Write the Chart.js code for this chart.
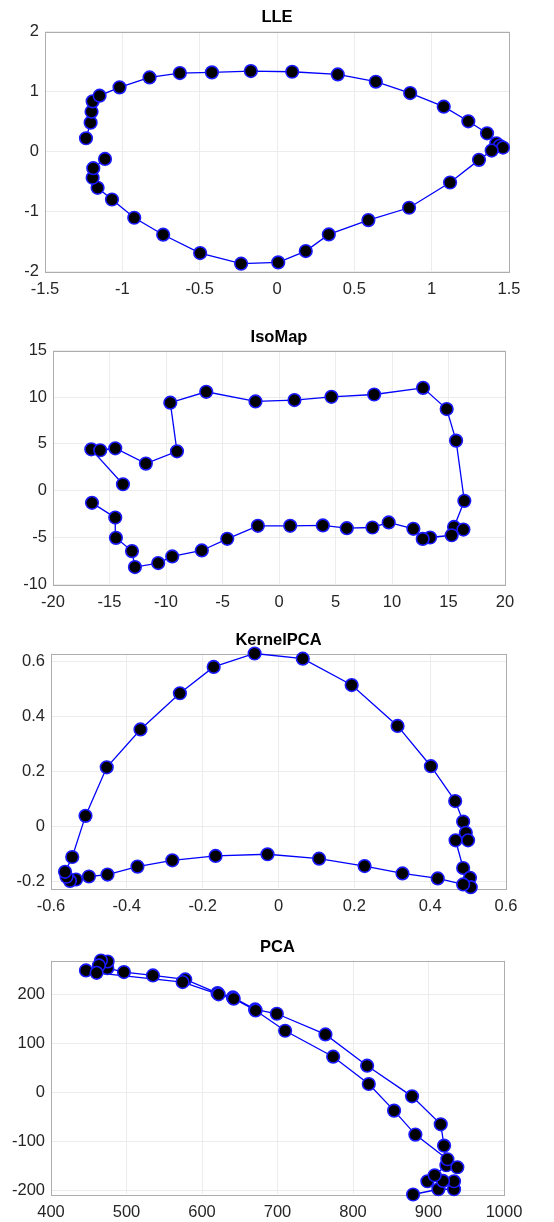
<!DOCTYPE html>
<html>
<head>
<meta charset="utf-8">
<script src="https://cdn.jsdelivr.net/npm/chart.js@4.4.0/dist/chart.umd.min.js"></script>
<style>
  body { margin: 0; background: #fff; }
  .panel { position: absolute; left: 0; width: 554px; }
</style>
</head>
<body>
<div class="panel" style="top:0px"><canvas id="lle" width="554" height="305"></canvas></div>
<div class="panel" style="top:310px"><canvas id="iso" width="554" height="305"></canvas></div>
<div class="panel" style="top:615px"><canvas id="kpca" width="554" height="303"></canvas></div>
<div class="panel" style="top:920px"><canvas id="pca" width="554" height="302"></canvas></div>
<script>
// LLE embedding
const lleX = [-1.235, -1.205, -1.199, -1.192, -1.147, -1.018, -0.824, -0.628, -0.421, -0.169, 0.098, 0.393, 0.639, 0.861, 1.078, 1.237, 1.358, 1.418, 1.44, 1.461, 1.388, 1.306, 1.119, 0.854, 0.591, 0.335, 0.186, 0.008, -0.232, -0.497, -0.736, -0.923, -1.067, -1.160, -1.192, -1.188, -1.112];
const lleY = [0.217, 0.478, 0.661, 0.833, 0.928, 1.067, 1.233, 1.306, 1.317, 1.339, 1.328, 1.283, 1.161, 0.972, 0.744, 0.500, 0.300, 0.133, 0.09, 0.061, 0.011, -0.144, -0.522, -0.944, -1.150, -1.389, -1.667, -1.856, -1.878, -1.700, -1.394, -1.111, -0.806, -0.611, -0.444, -0.283, -0.128];
const lleXTicks = [-1.5, -1, -0.5, 0, 0.5, 1, 1.5];
const lleYTicks = [-2, -1, 0, 1, 2];

// IsoMap embedding
const isoX = [-13.81, -16.61, -15.82, -14.49, -11.78, -9.03, -9.62, -6.44, -2.08, 1.37, 4.64, 8.42, 12.75, 14.84, 15.67, 16.40, 15.49, 16.32, 15.28, 13.37, 12.72, 11.89, 9.71, 8.27, 6.00, 3.88, 0.99, -1.87, -4.58, -6.83, -9.45, -10.69, -12.75, -13.01, -14.43, -14.49, -16.55];
const isoY = [0.68, 4.42, 4.32, 4.53, 2.89, 4.21, 9.41, 10.58, 9.55, 9.69, 10.04, 10.29, 11.00, 8.73, 5.35, -1.10, -3.89, -4.17, -4.78, -5.02, -5.17, -4.09, -3.41, -3.95, -4.02, -3.73, -3.77, -3.77, -5.16, -6.41, -7.05, -7.76, -8.19, -6.48, -5.06, -2.89, -1.31];
const isoXTicks = [-20, -15, -10, -5, 0, 5, 10, 15, 20];
const isoYTicks = [-10, -5, 0, 5, 10, 15];

// KernelPCA embedding
const kpcaX = [-0.534, -0.550, -0.559, -0.563, -0.544, -0.509, -0.453, -0.364, -0.260, -0.171, -0.063, 0.064, 0.193, 0.314, 0.402, 0.466, 0.487, 0.494, 0.500, 0.467, 0.487, 0.505, 0.507, 0.487, 0.420, 0.327, 0.227, 0.107, -0.029, -0.166, -0.280, -0.372, -0.451, -0.500];
const kpcaY = [-0.194, -0.199, -0.184, -0.166, -0.112, 0.038, 0.215, 0.353, 0.485, 0.581, 0.630, 0.611, 0.515, 0.366, 0.219, 0.092, 0.017, -0.024, -0.051, -0.051, -0.152, -0.188, -0.222, -0.212, -0.190, -0.172, -0.145, -0.118, -0.102, -0.108, -0.124, -0.147, -0.176, -0.183];
const kpcaXTicks = [-0.6, -0.4, -0.2, 0, 0.2, 0.4, 0.6];
const kpcaYTicks = [-0.2, 0, 0.2, 0.4, 0.6];

// PCA embedding
const pcaX = [879.6, 913.1, 933.8, 933.8, 919.3, 898.5, 908.2, 923.7, 920.6, 916.2, 878.2, 818.7, 763.5, 699.1, 670.4, 640.9, 620.6, 577.8, 535.0, 496.6, 474.6, 475.0, 466.2, 463.5, 446.3, 460.4, 574.3, 622.0, 642.0, 671.0, 710.1, 773.7, 820.9, 854.4, 882.6, 925.0, 938.2];
const pcaY = [-208, -197.3, -197.3, -181, -180.3, -181, -168.7, -148.3, -108.2, -64.6, -7.5, 55.1, 119, 161.2, 170.1, 194.6, 203.4, 231.3, 239.5, 246.3, 254.4, 268, 270, 259.9, 249.7, 244.9, 225.9, 201, 192, 168, 126.5, 73.5, 17.7, -36.7, -85.7, -136, -152.4];
const pcaXTicks = [400, 500, 600, 700, 800, 900, 1000];
const pcaYTicks = [-200, -100, 0, 100, 200];

const boxPlugin = {
  id: 'box',
  beforeDatasetsDraw(chart) {
    const a = chart.chartArea;
    const ctx = chart.ctx;
    ctx.save();
    ctx.strokeStyle = '#adadad';
    ctx.lineWidth = 1;
    ctx.strokeRect(Math.round(a.left) + 0.5, Math.round(a.top) + 0.5,
      Math.round(a.right - a.left), Math.round(a.bottom - a.top));
    ctx.restore();
  }
};

function makePanel(id, title, xs, ys, xTicks, yTicks, xr, yr, area, titleY, canvasH) {
  const pts = xs.map((x, i) => ({ x: x, y: ys[i] }));
  const tickFont = { family: '"Liberation Sans", Arial, sans-serif', size: 16.5 };
  new Chart(document.getElementById(id), {
    type: 'scatter',
    data: {
      datasets: [{
        data: pts,
        showLine: true,
        borderColor: '#0000ff',
        borderWidth: 1.3,
        pointRadius: 6.3,
        pointHoverRadius: 6.3,
        pointBackgroundColor: '#000000',
        pointBorderColor: '#1a1aff',
        pointBorderWidth: 1.6,
        tension: 0,
        clip: false
      }]
    },
    options: {
      responsive: false,
      animation: false,
      events: [],
      layout: { padding: { left: 0, right: 554 - area.r, top: titleY - 8, bottom: 0 } },
      plugins: {
        legend: { display: false },
        tooltip: { enabled: false },
        title: {
          display: true,
          text: title,
          fullSize: false,
          color: '#000',
          font: { family: '"Liberation Sans", Arial, sans-serif', size: 16.5, weight: 'bold', lineHeight: 1 },
          padding: { top: 0, bottom: area.t - (titleY + 8) }
        }
      },
      scales: {
        x: {
          type: 'linear',
          min: xr[0], max: xr[1],
          afterBuildTicks: s => { s.ticks = xTicks.map(v => ({ value: v })); },
          afterFit: s => { s.height = canvasH - area.b; },
          ticks: { color: '#262626', font: tickFont, padding: 9, autoSkip: false, maxRotation: 0,
                   callback: v => String(v) },
          grid: { color: '#ececec', drawTicks: false },
          border: { display: false }
        },
        y: {
          type: 'linear',
          min: yr[0], max: yr[1],
          afterBuildTicks: s => { s.ticks = yTicks.map(v => ({ value: v })); },
          afterFit: s => { s.width = area.l; },
          ticks: { color: '#262626', font: tickFont, padding: 6, autoSkip: false,
                   callback: v => String(v) },
          grid: { color: '#ececec', drawTicks: false },
          border: { display: false }
        }
      }
    },
    plugins: [boxPlugin]
  });
}

makePanel('lle', 'LLE', lleX, lleY, lleXTicks, lleYTicks, [-1.5, 1.5], [-2, 2],
  { l: 45, r: 509, t: 31, b: 271 }, 17, 305);
makePanel('iso', 'IsoMap', isoX, isoY, isoXTicks, isoYTicks, [-20, 20], [-10, 15],
  { l: 53, r: 505, t: 40, b: 274 }, 27, 305);
makePanel('kpca', 'KernelPCA', kpcaX, kpcaY, kpcaXTicks, kpcaYTicks, [-0.6, 0.6], [-0.225, 0.63],
  { l: 51, r: 506, t: 38, b: 273 }, 25, 303);
makePanel('pca', 'PCA', pcaX, pcaY, pcaXTicks, pcaYTicks, [400, 1000], [-207, 270],
  { l: 51, r: 504, t: 40, b: 274 }, 27, 302);
</script>
</body>
</html>
